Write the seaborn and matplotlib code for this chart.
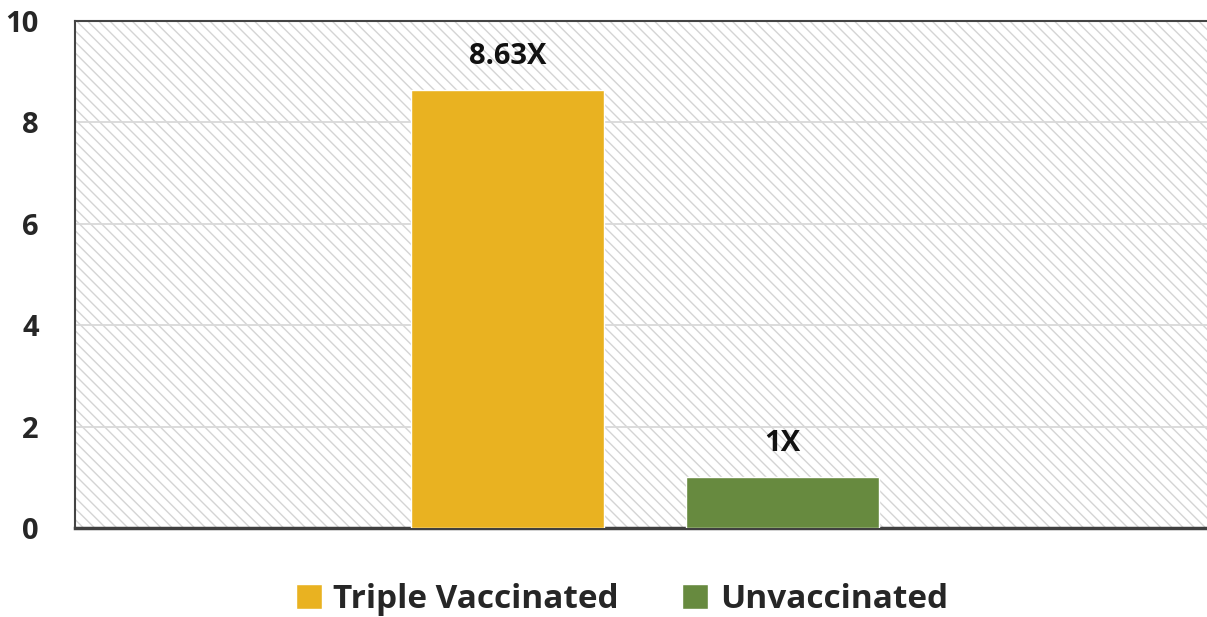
import matplotlib
matplotlib.use("Agg")
import matplotlib.pyplot as plt
import seaborn as sns
import pandas as pd
from matplotlib.patches import Rectangle

groups = ["Triple Vaccinated", "Unvaccinated"]
values = [8.63, 1.0]
labels = ["8.63X", "1X"]
colors = ["#E9B221", "#678A3F"]
yticks = [0, 2, 4, 6, 8, 10]

sns.set_style("white")
plt.rcParams["font.family"] = ["Open Sans", "DejaVu Sans"]
plt.rcParams["hatch.color"] = "#d4d4d4"
plt.rcParams["hatch.linewidth"] = 1.0

df = pd.DataFrame({"cat": [""] * len(groups), "group": groups, "value": values})

fig = plt.figure(figsize=(12.07, 6.17), dpi=100)
ax = fig.add_axes([75 / 1207, 1 - 528 / 617, 1 - 75 / 1207, (528 - 21) / 617])

# hatched background
bg = Rectangle((0, 0), 1, 1, transform=ax.transAxes, facecolor="white",
               edgecolor="#d4d4d4", hatch="\\\\\\", linewidth=0, zorder=0)
ax.add_patch(bg)

sns.barplot(data=df, x="cat", y="value", hue="group", palette=colors,
            gap=0.3, width=0.8, ax=ax, zorder=3, legend=True, saturation=1)

for cont, lab in zip(ax.containers, labels):
    ax.bar_label(cont, labels=[lab], padding=14, fontsize=21, fontweight="bold",
                 color="#111111")

ax.set_ylim(0, 10)
ax.set_xlim(-0.829, 0.817)
ax.set_yticks(yticks)
ax.set_yticklabels([str(t) for t in yticks], fontsize=21, fontweight="bold")
ax.set_xticks([])
ax.set_xlabel("")
ax.set_ylabel("")
ax.tick_params(axis="y", length=0, pad=26)
ax.yaxis.grid(True, color="#d9d9d9", linewidth=1.3, zorder=1)
ax.set_axisbelow(True)

for s in ["top", "left"]:
    ax.spines[s].set_color("#444444")
    ax.spines[s].set_linewidth(1.5)
ax.spines["bottom"].set_color("#404040")
ax.spines["bottom"].set_linewidth(2.5)
ax.spines["right"].set_visible(False)

handles, _ = ax.get_legend_handles_labels()
ax.legend(handles, groups, loc="upper center", bbox_to_anchor=(0.483, -0.05),
          ncol=2, frameon=False, handlelength=0.78, handleheight=0.78,
          handletextpad=0.35, columnspacing=1.9,
          prop={"weight": "bold", "size": 24})

fig.savefig("out.png", dpi=100)
